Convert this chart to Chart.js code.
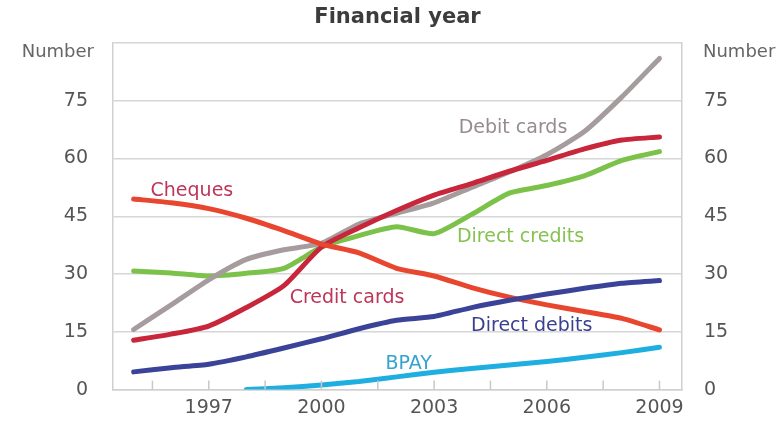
<!DOCTYPE html>
<html>
<head>
<meta charset="utf-8">
<script src="https://cdn.jsdelivr.net/npm/chart.js@4/dist/chart.umd.min.js"></script>
<style>
  html, body { margin: 0; padding: 0; background: #fff; }
  #chart { display: block; }
</style>
</head>
<body>
<canvas id="chart" width="783" height="426"></canvas>
<script>
// Financial years (x) and number of transactions per person (y)
const years = [1995, 1996, 1997, 1998, 1999, 2000, 2001, 2002, 2003, 2004, 2005, 2006, 2007, 2008, 2009];

const cheques       = [49.5, 48.5, 47.0, 44.5, 41.3, 37.8, 35.5, 31.5, 29.5, 26.5, 24.0, 22.0, 20.3, 18.5, 15.5];
const creditCards   = [12.8, 14.4, 16.5, 21.3, 27.0, 37.0, 42.0, 46.5, 50.5, 53.5, 56.7, 59.5, 62.5, 64.8, 65.6];
const debitCards    = [15.6, 22.0, 28.5, 33.8, 36.3, 38.0, 43.0, 45.8, 48.5, 52.5, 56.5, 61.0, 67.0, 76.0, 86.0];
const directCredits = [30.8, 30.3, 29.5, 30.2, 31.5, 37.0, 40.0, 42.3, 40.5, 45.5, 51.0, 53.0, 55.5, 59.5, 61.8];
const directDebits  = [4.6, 5.7, 6.6, 8.5, 10.8, 13.2, 15.8, 18.0, 19.0, 21.3, 23.2, 24.8, 26.3, 27.6, 28.3];
const bpay          = [null, null, null, 0.0, 0.5, 1.2, 2.1, 3.3, 4.5, 5.5, 6.4, 7.3, 8.4, 9.6, 11.0];

const yTicks = [0, 15, 30, 45, 60, 75];
const xTickLabels = [1997, 2000, 2003, 2006, 2009];
const xMinorTicks = [1995.5, 1998.5, 2001.5, 2004.5, 2007.5];

const FONT = "'DejaVu Sans', sans-serif";

function pts(values) {
  return years.map((y, i) => ({ x: y, y: values[i] })).filter(p => p.y !== null);
}

// series label text placed at (year, value)
const seriesLabels = [
  { text: 'Cheques',        x: 1996.55, y: 51.6, color: '#bd3557' },
  { text: 'Debit cards',    x: 2005.1,  y: 67.8, color: '#958c8e' },
  { text: 'Direct credits', x: 2005.3,  y: 39.6, color: '#86c250' },
  { text: 'Credit cards',   x: 2000.68, y: 23.8, color: '#bd3557' },
  { text: 'Direct debits',  x: 2005.6,  y: 16.4, color: '#3b3f8f' },
  { text: 'BPAY',           x: 2002.32, y: 6.7,  color: '#34a3cf' }
];

const extras = {
  id: 'extras',
  afterDraw(chart) {
    const ctx = chart.ctx;
    const xs = chart.scales.x, ys = chart.scales.y;
    const area = chart.chartArea;
    ctx.save();
    // small inner tick marks along the bottom axis
    ctx.strokeStyle = '#c8c8c8';
    ctx.lineWidth = 1.5;
    xTickLabels.concat(xMinorTicks).forEach(v => {
      const px = xs.getPixelForValue(v);
      ctx.beginPath();
      ctx.moveTo(px, area.bottom);
      ctx.lineTo(px, area.bottom - 9);
      ctx.stroke();
    });
    // title
    ctx.fillStyle = '#3c3c3c';
    ctx.font = 'bold 21px ' + FONT;
    ctx.textAlign = 'center';
    ctx.textBaseline = 'middle';
    ctx.fillText('Financial year', (area.left + area.right) / 2, 18);
    // unit labels
    ctx.fillStyle = '#666';
    ctx.font = '18px ' + FONT;
    ctx.textAlign = 'right';
    ctx.fillText('Number', 94, 52);
    ctx.textAlign = 'left';
    ctx.fillText('Number', 703, 52);
    // series labels
    ctx.font = '19px ' + FONT;
    ctx.textAlign = 'center';
    seriesLabels.forEach(l => {
      ctx.fillStyle = l.color;
      ctx.fillText(l.text, xs.getPixelForValue(l.x), ys.getPixelForValue(l.y));
    });
    ctx.restore();
  }
};

const bg = {
  id: 'bg',
  beforeDraw(chart) {
    const ctx = chart.ctx;
    ctx.save();
    ctx.fillStyle = '#fff';
    ctx.fillRect(0, 0, chart.width, chart.height);
    ctx.restore();
  }
};

function line(label, values, color) {
  return {
    label: label,
    data: pts(values),
    borderColor: color,
    backgroundColor: color,
    borderWidth: 5,
    pointRadius: 0,
    tension: 0.2,
    borderCapStyle: 'round',
    borderJoinStyle: 'round',
    fill: false
  };
}

new Chart(document.getElementById('chart'), {
  type: 'line',
  data: {
    datasets: [
      line('Direct debits', directDebits, '#3b4399'),
      line('Cheques', cheques, '#e8462f'),
      line('Credit cards', creditCards, '#c8263a'),
      line('Debit cards', debitCards, '#a69c9e'),
      line('Direct credits', directCredits, '#7cc24a'),
      line('BPAY', bpay, '#1eaee0')
    ]
  },
  options: {
    responsive: false,
    animation: false,
    layout: { padding: { top: 43, left: 0, right: 0, bottom: 0 } },
    plugins: {
      legend: { display: false },
      title: { display: false },
      tooltip: { enabled: false }
    },
    scales: {
      x: {
        type: 'linear',
        min: 1994.45,
        max: 2009.6,
        afterBuildTicks: s => { s.ticks = xTickLabels.concat(xMinorTicks).sort().map(v => ({ value: v })); },
        afterFit: s => { s.height = 33; },
        grid: { display: false, drawTicks: false },
        border: { display: true, color: '#d0d0d0', width: 1.5 },
        ticks: {
          autoSkip: false,
          maxRotation: 0,
          padding: 7,
          color: '#555',
          font: { family: FONT, size: 19 },
          callback: v => xTickLabels.includes(v) ? String(v) : ''
        }
      },
      y: {
        position: 'left',
        min: 0,
        max: 90,
        afterBuildTicks: s => { s.ticks = yTicks.concat([90]).map(v => ({ value: v })); },
        afterFit: s => { s.width = 113; },
        grid: { color: '#d6d6d6', lineWidth: 1.5, drawTicks: false },
        border: { display: true, color: '#d0d0d0', width: 1.5 },
        ticks: {
          padding: 25,
          color: '#555',
          font: { family: FONT, size: 19 },
          callback: v => v === 90 ? '' : String(v)
        }
      },
      y2: {
        position: 'right',
        min: 0,
        max: 90,
        afterBuildTicks: s => { s.ticks = yTicks.concat([90]).map(v => ({ value: v })); },
        afterFit: s => { s.width = 101; },
        grid: { display: false, drawTicks: false },
        border: { display: true, color: '#d0d0d0', width: 1.5 },
        ticks: {
          padding: 22,
          color: '#555',
          font: { family: FONT, size: 19 },
          callback: v => v === 90 ? '' : String(v)
        }
      }
    }
  },
  plugins: [bg, extras]
});
</script>
</body>
</html>
